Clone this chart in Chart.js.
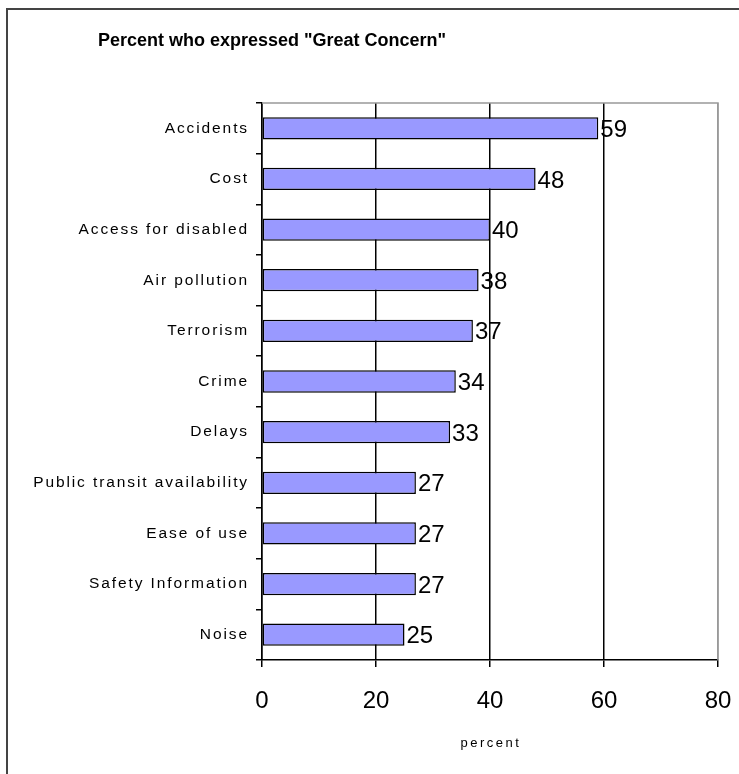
<!DOCTYPE html>
<html>
<head>
<meta charset="utf-8">
<script src="https://cdn.jsdelivr.net/npm/chart.js@4"></script>
<style>
  html, body { margin: 0; padding: 0; background: #fff; }
  #wrap { position: relative; width: 739px; height: 774px; }
</style>
</head>
<body>
<div id="wrap"><canvas id="graficoConcern" width="739" height="774"></canvas></div>
<script>
// =========================
// DATA
// =========================

const categorias = [
    'Accidents', 'Cost', 'Access for disabled', 'Air pollution', 'Terrorism',
    'Crime', 'Delays', 'Public transit availability', 'Ease of use',
    'Safety Information', 'Noise'
];
const percentuais = [59, 48, 40, 38, 37, 34, 33, 27, 27, 27, 25];
const ticksX = [0, 20, 40, 60, 80];

const tituloGrafico = 'Percent who expressed "Great Concern"';
const tituloEixoX = 'percent';

const fonte = 'Liberation Sans, Arial, sans-serif';


// =========================
// PLUGINS
// =========================

// moldura externa, borda cinza da área e título
const moldura = {
    id: 'moldura',
    beforeDraw(chart) {
        const c = chart.ctx;
        c.save();
        c.strokeStyle = '#444';
        c.lineWidth = 2;
        c.beginPath();
        c.moveTo(7, 800);
        c.lineTo(7, 9);
        c.lineTo(800, 9);
        c.stroke();

        c.fillStyle = '#000';
        c.font = 'bold 18px ' + fonte;
        c.textAlign = 'center';
        c.textBaseline = 'middle';
        c.fillText(tituloGrafico, 272, 41);
        c.restore();
    },
    afterDatasetsDraw(chart) {
        const c = chart.ctx;
        const a = chart.chartArea;
        c.save();
        c.strokeStyle = '#999';
        c.lineWidth = 1.5;
        c.beginPath();
        c.moveTo(a.left, a.top);
        c.lineTo(a.right, a.top);
        c.lineTo(a.right, a.bottom);
        c.stroke();
        c.restore();
    }
};

// rótulos: categorias, valores e título do eixo x
const rotulos = {
    id: 'rotulos',
    afterDraw(chart) {
        const c = chart.ctx;
        const a = chart.chartArea;
        const yScale = chart.scales.y;
        const meta = chart.getDatasetMeta(0);
        c.save();
        c.fillStyle = '#000';

        // categorias com espaçamento entre letras
        c.font = '15.5px ' + fonte;
        c.letterSpacing = '1.9px';
        c.textAlign = 'right';
        c.textBaseline = 'middle';
        categorias.forEach((cat, i) => {
            c.fillText(cat, a.left - 13, yScale.getPixelForTick(i));
        });

        // título do eixo x
        c.font = '13px ' + fonte;
        c.letterSpacing = '2.5px';
        c.textAlign = 'center';
        c.fillText(tituloEixoX, (a.left + a.right) / 2 + 1, 743);

        // valores
        c.letterSpacing = '0px';
        c.font = '24px ' + fonte;
        c.textAlign = 'left';
        meta.data.forEach((bar, i) => {
            c.fillText(String(percentuais[i]), bar.x + 2, bar.y + 2);
        });
        c.restore();
    }
};


// =========================
// GRÁFICO
// =========================

const graficoConcern = document.getElementById('graficoConcern');

if (graficoConcern) {

    const ctx = graficoConcern.getContext('2d');

    new Chart(ctx, {
        type: 'bar',
        data: {
            labels: categorias,
            datasets: [{
                label: 'Great Concern',
                data: percentuais,
                backgroundColor: '#9999FF',
                borderColor: '#000',
                borderWidth: 1.5,
                borderSkipped: false,
                barPercentage: 0.88,
                categoryPercentage: 0.5
            }]
        },
        plugins: [moldura, rotulos],
        options: {
            indexAxis: 'y',
            responsive: false,
            animation: false,
            devicePixelRatio: 1,
            layout: {
                padding: { left: 0, right: 21, top: 103, bottom: 18 }
            },
            scales: {
                x: {
                    min: 0,
                    max: 80,
                    afterBuildTicks: (axis) => {
                        axis.ticks = ticksX.map(v => ({ value: v }));
                    },
                    afterFit: (axis) => {
                        axis.height = 96;
                        axis.paddingLeft = 0;
                        axis.paddingRight = 0;
                    },
                    border: { display: true, color: '#000', width: 1.5 },
                    grid: {
                        color: (context) => context.tick && context.tick.value === 80 ? '#999' : '#000',
                        lineWidth: 1.5,
                        tickLength: 7,
                        tickColor: '#000'
                    },
                    ticks: {
                        color: '#000',
                        padding: 20,
                        maxRotation: 0,
                        font: { family: fonte, size: 24 }
                    }
                },
                y: {
                    afterFit: (axis) => { axis.width = 262; },
                    border: { display: true, color: '#000', width: 1.5 },
                    grid: {
                        offset: true,
                        drawOnChartArea: false,
                        tickLength: 6,
                        tickColor: '#000',
                        lineWidth: 1.5
                    },
                    ticks: { display: false }
                }
            },
            plugins: {
                legend: { display: false },
                tooltip: { enabled: false },
                title: { display: false }
            }
        }
    });
}
</script>
</body>
</html>
